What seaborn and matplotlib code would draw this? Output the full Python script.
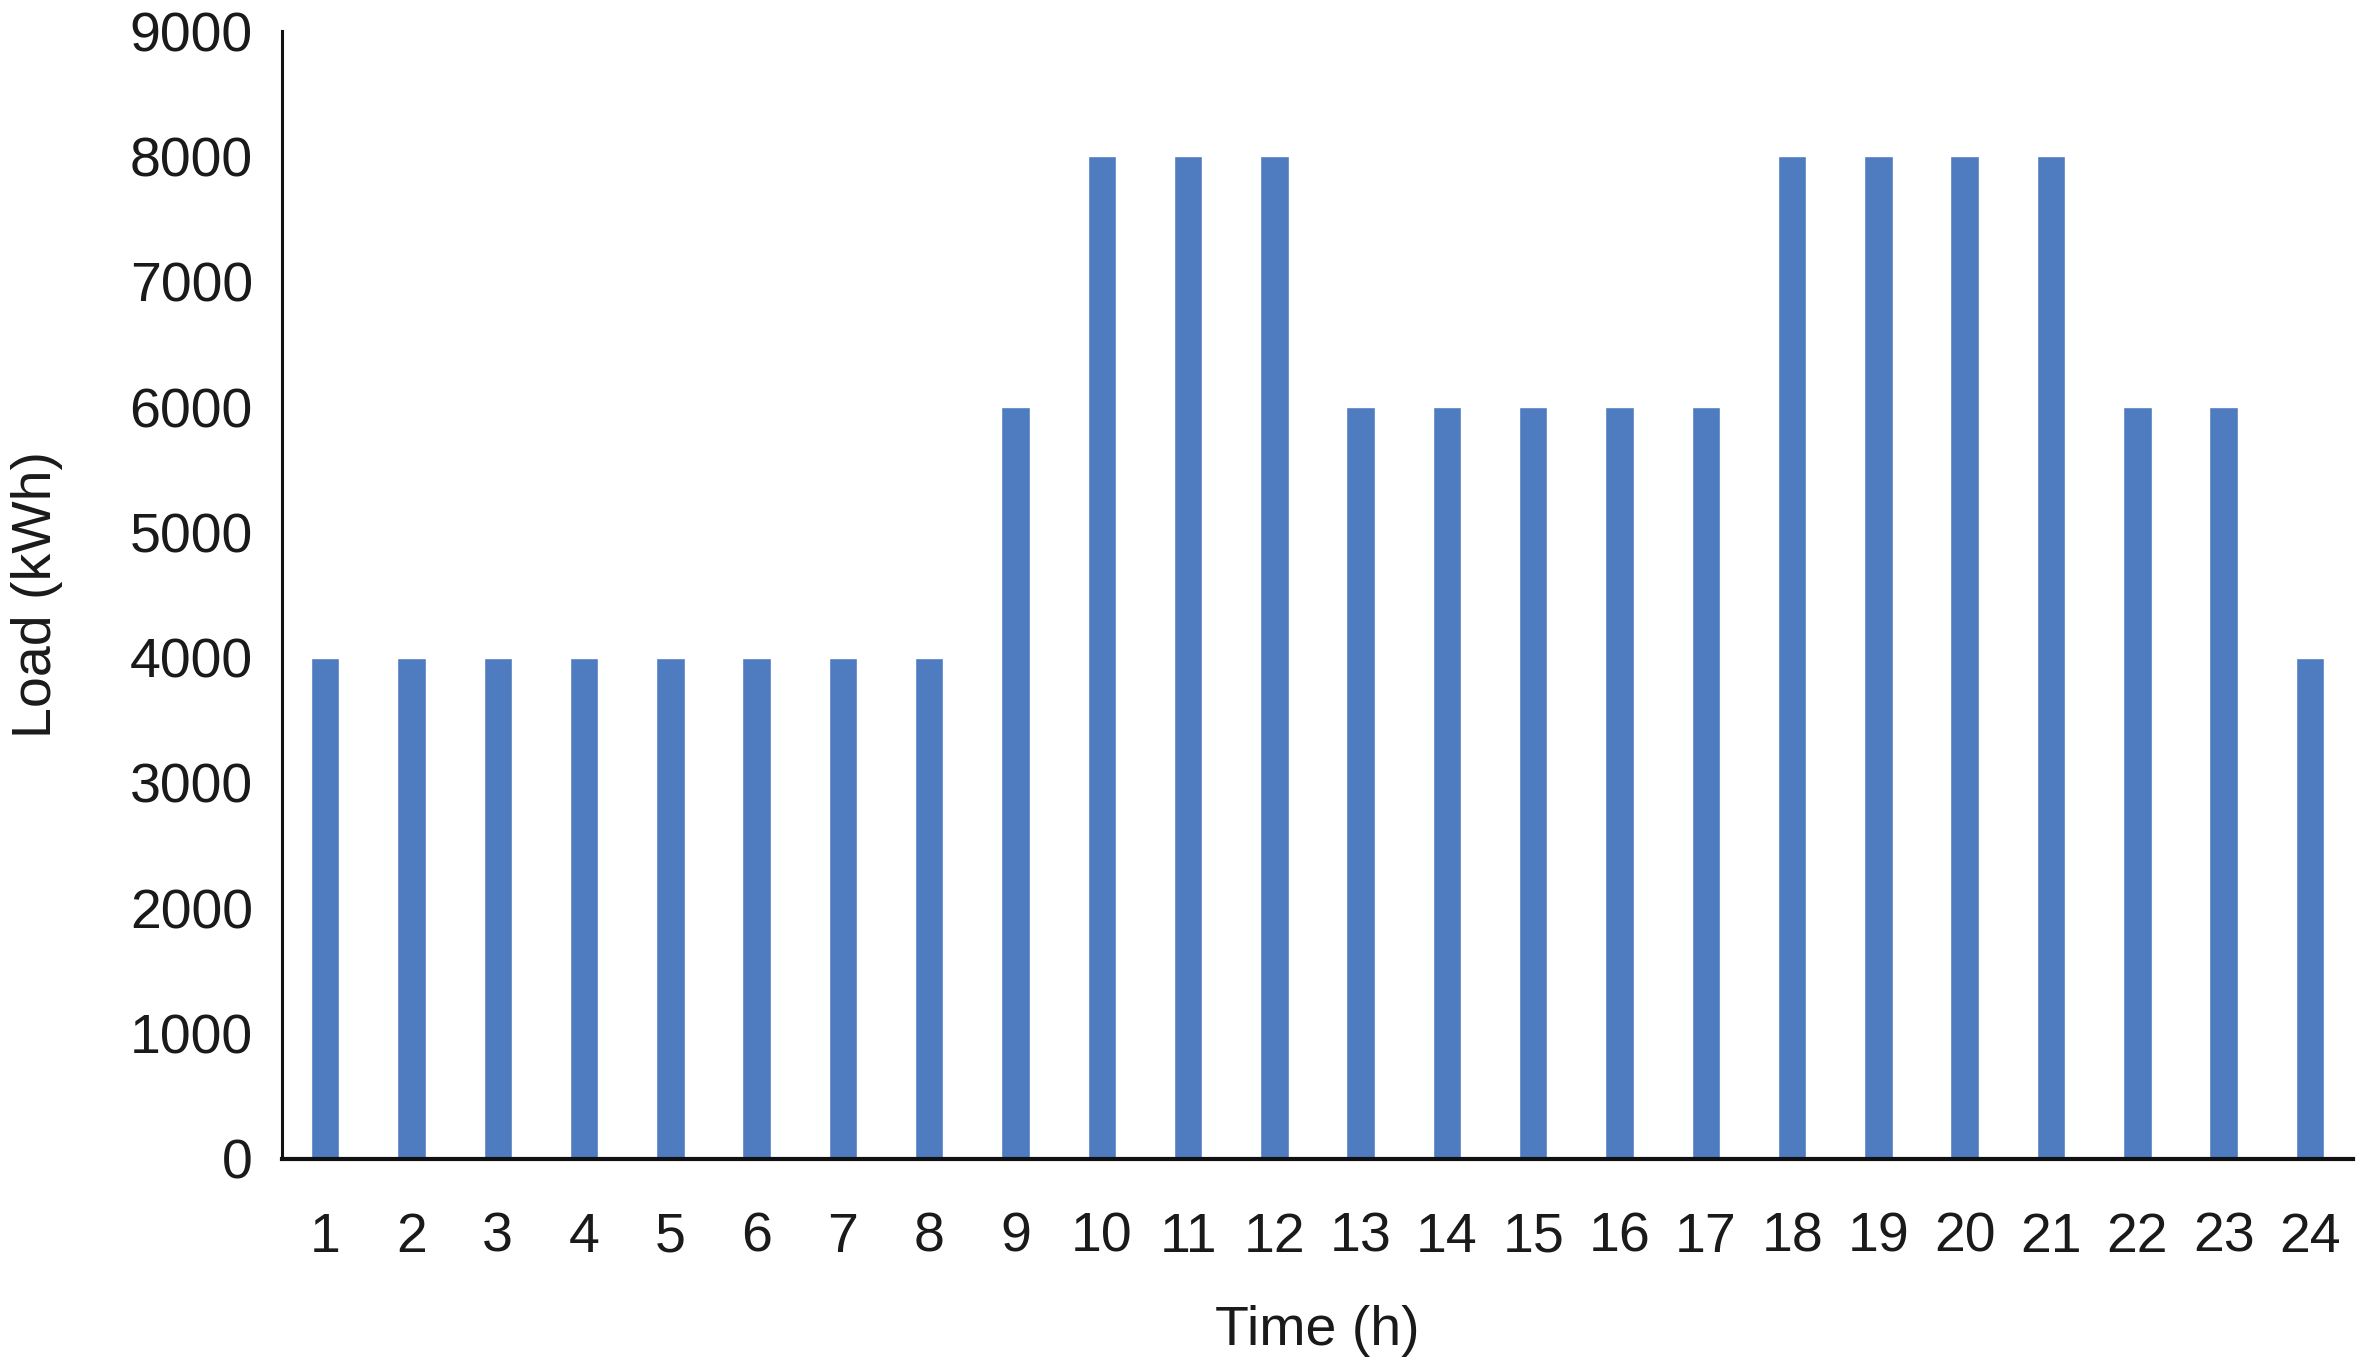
import matplotlib
matplotlib.use('Agg')
import matplotlib.pyplot as plt
import pandas as pd
import seaborn as sns

# Hourly load profile
hours = [str(h) for h in range(1, 25)]
load = [4000, 4000, 4000, 4000, 4000, 4000, 4000, 4000, 6000, 8000, 8000, 8000,
        6000, 6000, 6000, 6000, 6000, 8000, 8000, 8000, 8000, 6000, 6000, 4000]
y_ticks = [0, 1000, 2000, 3000, 4000, 5000, 6000, 7000, 8000, 9000]

df = pd.DataFrame({'hour': hours, 'load': load})

sns.set_theme(style='white')
plt.rcParams['font.family'] = ['Liberation Sans', 'DejaVu Sans']

fig = plt.figure(figsize=(23.62, 13.60), dpi=100)
ax = fig.add_axes([0.1194, 0.1478, 0.8768, 0.8294])

sns.barplot(data=df, x='hour', y='load', color='#4F7BC1', saturation=1,
            width=0.33, ax=ax)

ax.set_ylim(0, 9000)
ax.set_xlim(-0.5, 23.5)
ax.set_yticks(y_ticks)
ax.tick_params(axis='both', length=0, labelsize=40, colors='#1a1a1a')
ax.tick_params(axis='y', pad=21)
ax.tick_params(axis='x', pad=38)

ax.set_xlabel('Time (h)', fontsize=40, color='#1a1a1a', labelpad=30)
ax.set_ylabel('Load (kWh)', fontsize=40, color='#1a1a1a', labelpad=48)

for side in ['top', 'right']:
    ax.spines[side].set_visible(False)
ax.spines['left'].set_linewidth(2.2)
ax.spines['bottom'].set_linewidth(3)
ax.spines['left'].set_color('#111111')
ax.spines['bottom'].set_color('#111111')

fig.savefig('out.png', dpi=100)
